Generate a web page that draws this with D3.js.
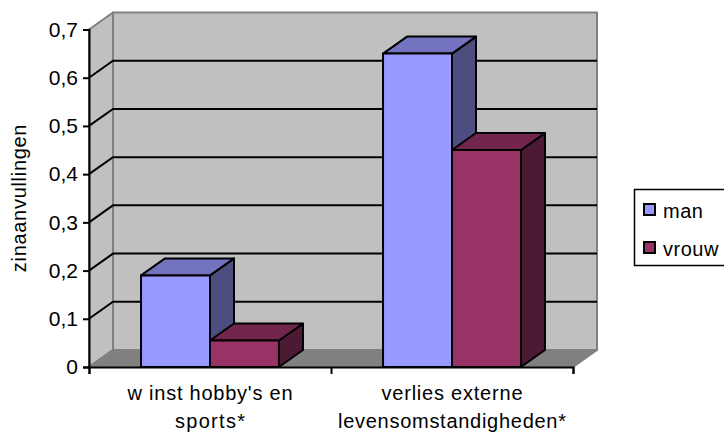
<!DOCTYPE html>
<html>
<head>
<meta charset="utf-8">
<script src="https://cdn.jsdelivr.net/npm/d3@7"></script>
<style>
  html, body { margin: 0; padding: 0; background: #fff; }
  svg { display: block; }
  text { font-family: "Liberation Sans", Arial, sans-serif; fill: #000; }
</style>
</head>
<body>
<svg id="chart"></svg>
<script>
// Data
const categories = ['cat1', 'cat2'];
const categoryLabels = [["w inst hobby's en", 'sports*'], ['verlies externe', 'levensomstandigheden*']];
const seriesNames = ['man', 'vrouw'];
const manValues = [0.19, 0.65];
const vrouwValues = [0.055, 0.45];
const yTicks = [0, 0.1, 0.2, 0.3, 0.4, 0.5, 0.6, 0.7];

const colors = {
  man: { front: '#9999ff', top: '#7373bf', side: '#4d4d80' },
  vrouw: { front: '#993366', top: '#73264d', side: '#4d1a33' }
};

// Widths of the wrapped label lines in the reference
const labelWidths = [[165, 70], [141, 228]];

const width = 724, height = 432;
const dx = 24, dy = -17; // depth of the 3d box

const svg = d3.select('#chart').attr('width', width).attr('height', height);

// Scales
const xAxisScale = d3.scaleLinear().domain([0, 2]).range([89, 573]);
const x0 = d3.scaleBand().domain(categories).range([89, 573]).paddingInner(0.43).paddingOuter(0.215);
const x1 = d3.scaleBand().domain(seriesNames).range([0, x0.bandwidth()]);
const y = d3.scaleLinear().domain([0, 0.7]).range([367, 29.5]);

const left = xAxisScale(0), right = xAxisScale(2), y0 = y(0), yTop = y(0.7);

// Side wall, back wall and floor
function poly(points, fill, stroke) {
  svg.append('polygon')
    .attr('points', points.map(p => p.join(',')).join(' '))
    .attr('fill', fill)
    .attr('stroke', stroke)
    .attr('stroke-width', 2)
    .attr('stroke-linejoin', 'round');
}
poly([[left + dx, yTop + dy], [right + dx, yTop + dy], [right + dx, y0 + dy], [left + dx, y0 + dy]], '#c0c0c0', '#808080');
poly([[left, yTop], [left + dx, yTop + dy], [left + dx, y0 + dy], [left, y0]], '#c0c0c0', '#808080');
poly([[left, y0], [left + dx, y0 + dy], [right + dx, y0 + dy], [right, y0]], '#808080', '#808080');

// Gridlines
yTicks.filter(d => d > 0 && d < 0.7).forEach(d => {
  svg.append('path')
    .attr('d', d3.line()([[left, y(d)], [left + dx, y(d) + dy], [right + dx, y(d) + dy]]))
    .attr('fill', 'none')
    .attr('stroke', '#000')
    .attr('stroke-width', 2);
});

// Bars, drawn back to front
const rows = categories.flatMap((c, i) => [
  { cat: c, name: 'man', value: manValues[i] },
  { cat: c, name: 'vrouw', value: vrouwValues[i] }
]);

const bars = svg.selectAll('.bar').data(rows).enter().append('g').attr('class', 'bar');

function barFace(sel, fill, pts) {
  sel.append('polygon')
    .attr('points', d => pts(d).map(p => p.join(',')).join(' '))
    .attr('fill', d => colors[d.name][fill])
    .attr('stroke', '#000')
    .attr('stroke-width', 2)
    .attr('stroke-linejoin', 'round');
}
const bx = d => x0(d.cat) + x1(d.name);
const bw = x1.bandwidth();

barFace(bars, 'side', d => [[bx(d) + bw, y(d.value)], [bx(d) + bw + dx, y(d.value) + dy], [bx(d) + bw + dx, y0 + dy], [bx(d) + bw, y0]]);
barFace(bars, 'top', d => [[bx(d), y(d.value)], [bx(d) + dx, y(d.value) + dy], [bx(d) + bw + dx, y(d.value) + dy], [bx(d) + bw, y(d.value)]]);
barFace(bars, 'front', d => [[bx(d), y(d.value)], [bx(d) + bw, y(d.value)], [bx(d) + bw, y0], [bx(d), y0]]);

// Axes
const yAxis = d3.axisLeft(y)
  .tickValues(yTicks)
  .tickSize(6)
  .tickPadding(5)
  .tickFormat(d => d === 0 ? '0' : d3.format('.1f')(d).replace('.', ','));
const yG = svg.append('g').attr('transform', `translate(${left},0)`).call(yAxis);

const xAxis = d3.axisBottom(xAxisScale).tickValues([0, 1, 2]).tickSize(7).tickFormat('');
const xG = svg.append('g').attr('transform', `translate(0,${y0})`).call(xAxis);

[yG, xG].forEach(g => {
  g.selectAll('.domain').attr('stroke', '#000').attr('stroke-width', 2);
  g.selectAll('line').attr('stroke', '#000').attr('stroke-width', 2);
});
yG.selectAll('text').style('font-size', '21px').attr('fill', '#000');

// Category labels
categories.forEach((c, i) => {
  categoryLabels[i].forEach((line, j) => {
    svg.append('text')
      .attr('x', x0(c) + x0.bandwidth() / 2)
      .attr('y', 400 + j * 28)
      .attr('text-anchor', 'middle')
      .attr('textLength', labelWidths[i][j])
      .attr('lengthAdjust', 'spacing')
      .style('font-size', '20px')
      .text(line);
  });
});

// Y axis title
svg.append('text')
  .attr('transform', 'translate(26,198) rotate(-90)')
  .attr('text-anchor', 'middle')
  .style('font-size', '20px')
  .style('letter-spacing', '0.7px')
  .text('zinaanvullingen');

// Legend
svg.append('rect')
  .attr('x', 634.5).attr('y', 189.5)
  .attr('width', 100).attr('height', 76)
  .attr('fill', '#fff').attr('stroke', '#000').attr('stroke-width', 1.5);

seriesNames.forEach((name, i) => {
  svg.append('rect')
    .attr('x', 644).attr('y', 204 + i * 38)
    .attr('width', 11).attr('height', 11)
    .attr('fill', colors[name].front)
    .attr('stroke', '#000').attr('stroke-width', 2);
  svg.append('text')
    .attr('x', 663).attr('y', 218 + i * 38)
    .style('font-size', '20px')
    .style('letter-spacing', '0.5px')
    .text(name);
});
</script>
</body>
</html>
